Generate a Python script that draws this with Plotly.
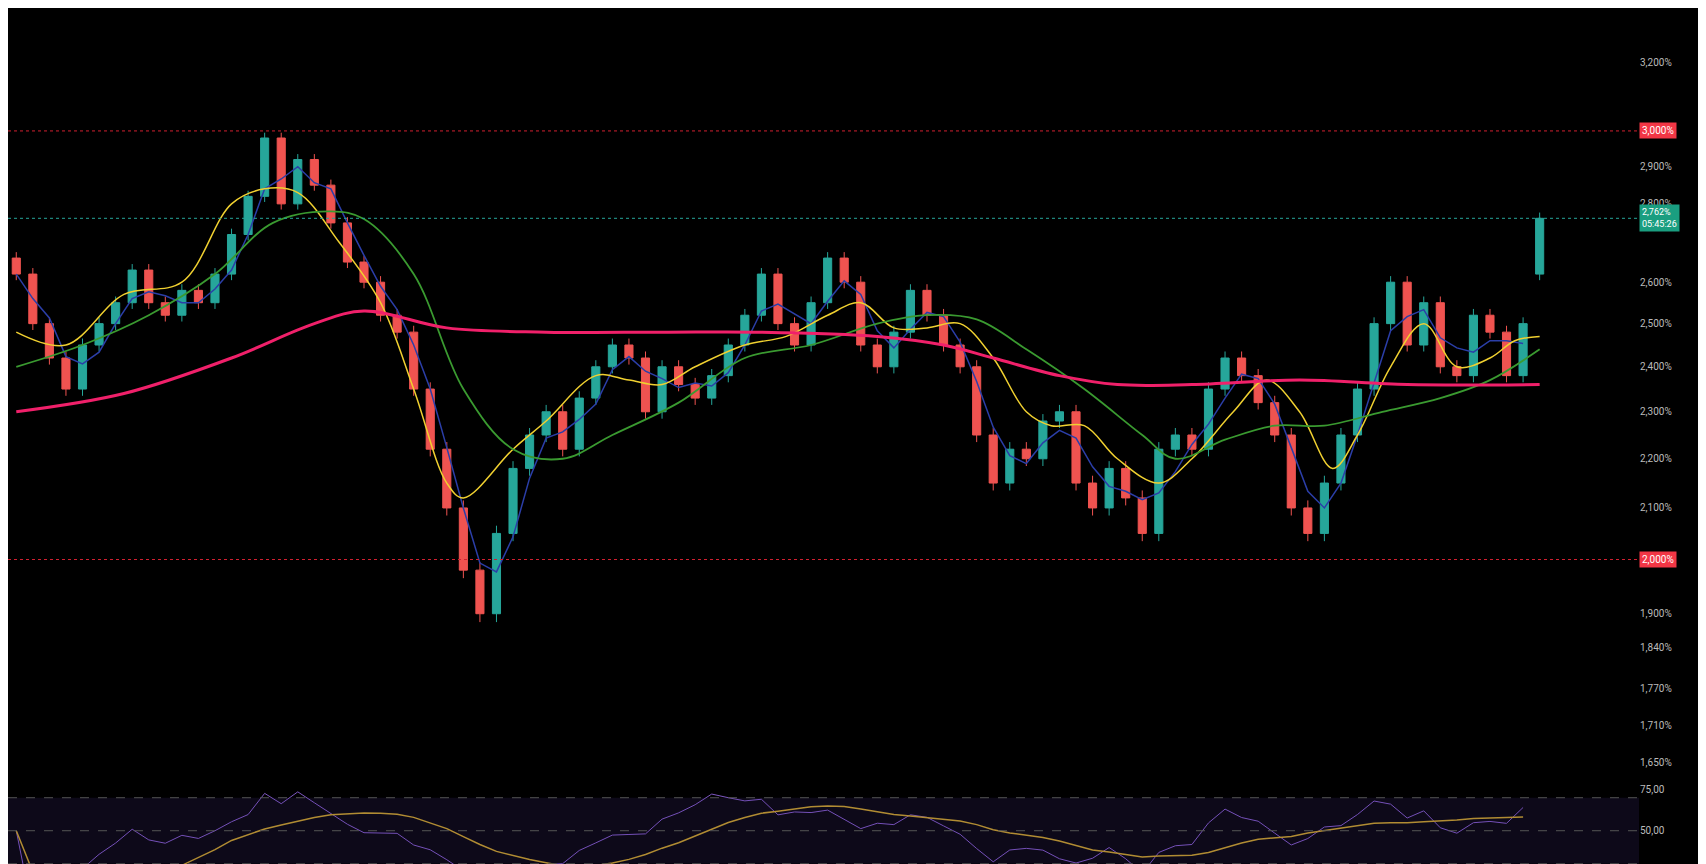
import numpy as np
import pandas as pd
import plotly.graph_objects as go
from plotly.subplots import make_subplots

# closes, one per candle
closes = [2.62, 2.50, 2.42, 2.35, 2.45, 2.50, 2.55, 2.63, 2.55, 2.52,
          2.58, 2.55, 2.62, 2.72, 2.82, 2.98, 2.80, 2.92, 2.85, 2.75,
          2.65, 2.60, 2.52, 2.48, 2.35, 2.22, 2.10, 1.98, 1.90, 2.05,
          2.18, 2.25, 2.30, 2.22, 2.33, 2.40, 2.45, 2.42, 2.30, 2.40,
          2.36, 2.33, 2.38, 2.45, 2.52, 2.62, 2.50, 2.45, 2.55, 2.66,
          2.60, 2.45, 2.40, 2.48, 2.58, 2.52, 2.45, 2.40, 2.25, 2.15,
          2.22, 2.20, 2.28, 2.30, 2.15, 2.10, 2.18, 2.12, 2.05, 2.22,
          2.25, 2.22, 2.35, 2.42, 2.38, 2.32, 2.25, 2.10, 2.05, 2.15,
          2.25, 2.35, 2.50, 2.60, 2.45, 2.55, 2.40, 2.38, 2.52, 2.48,
          2.38, 2.50, 2.762]
first_open = 2.66
last_open = 2.62
wick = 0.015

yellow_x = [0, 3, 6.5, 10, 13, 15, 17, 19.5, 22, 24, 26, 27, 30, 32, 35, 37, 39, 41, 44, 46.5,
            49, 51, 53, 55, 57, 59, 61, 62.5, 64.5, 66.5, 69, 71, 73.5, 75.5, 77.5, 79.5, 81, 83, 85, 87,
            89, 90.5, 92]
yellow_y = [2.48, 2.45, 2.57, 2.60, 2.80, 2.84, 2.83, 2.70, 2.55, 2.35, 2.15, 2.12, 2.22, 2.28, 2.38,
            2.37, 2.36, 2.40, 2.45, 2.47, 2.52, 2.55, 2.49, 2.49, 2.50, 2.42, 2.30, 2.27, 2.27, 2.20,
            2.15, 2.20, 2.30, 2.37, 2.30, 2.18, 2.25, 2.40, 2.50, 2.40, 2.42, 2.46, 2.47]
green_x = [0, 4, 8, 12, 15.5, 19, 21, 24, 27, 30, 33, 36, 40, 44, 48, 52, 55, 58, 61, 64.5,
           68, 70, 73, 76, 79, 82.5, 86, 89, 92]
green_y = [2.40, 2.45, 2.52, 2.62, 2.75, 2.78, 2.76, 2.62, 2.35, 2.22, 2.20, 2.25, 2.32, 2.42, 2.45,
           2.50, 2.52, 2.51, 2.44, 2.35, 2.25, 2.20, 2.24, 2.27, 2.27, 2.30, 2.33, 2.37, 2.44]
pink_x = [0, 6.5, 13, 18, 21, 26, 32, 39, 45, 52, 56, 59, 63, 66.5, 71, 77.5, 84, 92]
pink_y = [2.30, 2.34, 2.42, 2.50, 2.53, 2.49, 2.48, 2.48, 2.48, 2.47, 2.45, 2.42, 2.38, 2.36,
          2.36, 2.37, 2.36, 2.36]

tick_vals = [1.65, 1.71, 1.77, 1.84, 1.90, 2.1, 2.2, 2.3, 2.4, 2.5, 2.6, 2.8, 2.9, 3.2]
tick_text = ["1,650%", "1,710%", "1,770%", "1,840%", "1,900%", "2,100%", "2,200%", "2,300%",
             "2,400%", "2,500%", "2,600%", "2,800%", "2,900%", "3,200%"]

c = pd.Series(closes[:-1])
opens = [first_open] + closes[:-2] + [last_open]
x = list(range(len(closes)))
highs = [max(o, cl) + wick for o, cl in zip(opens, closes)]
lows = [min(o, cl) - wick for o, cl in zip(opens, closes)]
blue = c.rolling(3, min_periods=1).mean()

# RSI derived from the closes
d = c.diff()
up = d.clip(lower=0).rolling(14, min_periods=1).mean()
dn = (-d.clip(upper=0)).rolling(14, min_periods=1).mean()
rsi = 100 - 100 / (1 + up / dn.replace(0, np.nan))
rsi = rsi.fillna(50)
rsi_ma = rsi.rolling(10, min_periods=1).mean()

fig = make_subplots(rows=2, cols=1, shared_xaxes=True, row_heights=[0.89, 0.11],
                    vertical_spacing=0.01)

fig.add_trace(go.Candlestick(x=x, open=opens, high=highs, low=lows, close=closes,
                             increasing=dict(line=dict(color="#26a69a", width=1), fillcolor="#26a69a"),
                             decreasing=dict(line=dict(color="#ef5350", width=1), fillcolor="#ef5350"),
                             showlegend=False), row=1, col=1)
fig.add_trace(go.Scatter(x=x[:-1], y=blue, mode="lines", line=dict(color="#2b3ea8", width=1.5),
                         showlegend=False), row=1, col=1)
fig.add_trace(go.Scatter(x=yellow_x, y=yellow_y, mode="lines", line=dict(color="#f0d030", width=1.5, shape="spline"),
                         showlegend=False), row=1, col=1)
fig.add_trace(go.Scatter(x=green_x, y=green_y, mode="lines", line=dict(color="#3a9a30", width=1.8, shape="spline"),
                         showlegend=False), row=1, col=1)
fig.add_trace(go.Scatter(x=pink_x, y=pink_y, mode="lines", line=dict(color="#f0206a", width=3, shape="spline"),
                         showlegend=False), row=1, col=1)

for lvl, label in ((3.0, "3,000%"), (2.0, "2,000%")):
    fig.add_hline(y=lvl, line=dict(color="#d02030", width=1, dash="dot"), row=1, col=1)
    fig.add_annotation(x=1.0, xref="paper", xanchor="left", y=np.log10(lvl), yref="y",
                       text=label, showarrow=False, bgcolor="#f23645",
                       font=dict(color="white", size=10), borderpad=2)
fig.add_hline(y=2.762, line=dict(color="#26a69a", width=1, dash="dot"), row=1, col=1)
fig.add_annotation(x=1.0, xref="paper", xanchor="left", y=np.log10(2.762), yref="y",
                   text="2,762%<br>05:45:26", showarrow=False, bgcolor="#1a9e80",
                   font=dict(color="white", size=9), borderpad=2, align="left")

fig.add_trace(go.Scatter(x=x[:-1], y=rsi, mode="lines", line=dict(color="#7e57c2", width=1),
                         showlegend=False), row=2, col=1)
fig.add_trace(go.Scatter(x=x[:-1], y=rsi_ma, mode="lines", line=dict(color="#c8a020", width=1.5),
                         showlegend=False), row=2, col=1)
fig.add_hrect(y0=30, y1=70, fillcolor="rgba(70,50,140,0.18)", line_width=0, row=2, col=1)
for lvl in (70, 50, 30):
    fig.add_hline(y=lvl, line=dict(color="#555", width=1, dash="dash"), row=2, col=1)

fig.update_layout(
    paper_bgcolor="black", plot_bgcolor="black",
    width=1706, height=864, margin=dict(l=0, r=75, t=0, b=0),
    font=dict(family="Roboto", color="#bbbbbb", size=10),
    xaxis=dict(rangeslider_visible=False, showgrid=False, showticklabels=False, range=[-0.5, 98], zeroline=False),
    xaxis2=dict(showgrid=False, showticklabels=False, range=[-0.5, 98], zeroline=False),
    yaxis=dict(type="log", side="right", range=[np.log10(1.64), np.log10(3.37)], showgrid=False,
               tickvals=tick_vals, ticktext=tick_text, zeroline=False, ticks=""),
    yaxis2=dict(side="right", range=[25, 82], showgrid=False, tickvals=[50, 75],
                ticktext=["50,00", "75,00"], zeroline=False),
)

fig.write_html("out.html")
